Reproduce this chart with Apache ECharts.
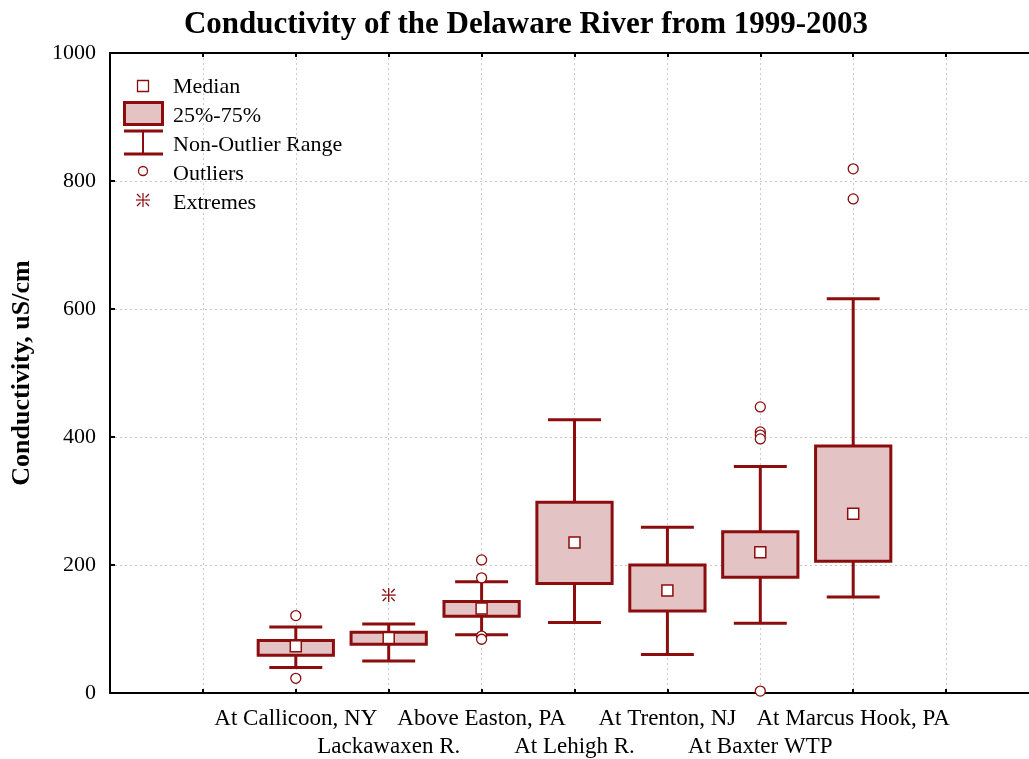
<!DOCTYPE html>
<html>
<head>
<meta charset="utf-8">
<title>Conductivity of the Delaware River from 1999-2003</title>
<script src="https://cdn.jsdelivr.net/npm/echarts@6/dist/echarts.min.js"></script>
<style>
  html, body { margin: 0; padding: 0; background: #fff; }
  #chart { width: 1029px; height: 759px; }
</style>
</head>
<body>
<div id="chart"></div>
<script>
// Sampling stations along the river, upstream to downstream
const stations = ['At Callicoon, NY', 'Lackawaxen R.', 'Above Easton, PA', 'At Lehigh R.',
                  'At Trenton, NJ', 'At Baxter WTP', 'At Marcus Hook, PA'];

// Box-plot statistics, conductivity in uS/cm
const whiskerLow  = [40, 50, 91, 110, 60, 109, 150];
const quartile1   = [59, 76, 120, 171, 128, 181, 206];
const medians     = [73, 86, 132, 235, 160, 220, 280];
const quartile3   = [82, 95, 143, 298, 200, 252, 386];
const whiskerHigh = [103, 108, 174, 427, 259, 354, 616];

// Outliers and extremes: [station index, value]
const outliers = [[0, 121], [0, 23], [2, 208], [2, 180], [2, 89], [2, 84],
                  [5, 447], [5, 408], [5, 403], [5, 397], [5, 3], [6, 819], [6, 772]];
const extremes = [[1, 153]];

const yTicks = [0, 200, 400, 600, 800, 1000];

const DARK = '#8b0d0d';
const FILL = '#e3c3c3';
const SERIF = '"Liberation Serif", "DejaVu Serif", serif';
const SLOT0 = 2;          // first station sits on the second tick of the x scale
const BOX_W = 0.81;       // box width in x-axis units
const CAP_W = 0.57;       // whisker cap width in x-axis units

const boxData = stations.map((s, i) =>
  [i + SLOT0, whiskerLow[i], quartile1[i], medians[i], quartile3[i], whiskerHigh[i]]);
const outlierData = outliers.map(([i, v]) => [i + SLOT0, v]);
const extremeData = extremes.map(([i, v]) => [i + SLOT0, v]);

function renderBox(params, api) {
  const x = api.value(0);
  const lo = api.coord([x, api.value(1)]);
  const q1 = api.coord([x, api.value(2)]);
  const md = api.coord([x, api.value(3)]);
  const q3 = api.coord([x, api.value(4)]);
  const hi = api.coord([x, api.value(5)]);
  const bw = api.size([BOX_W, 0])[0];
  const cw = api.size([CAP_W, 0])[0];
  const cx = lo[0];
  const lineStyle = { stroke: DARK, lineWidth: 3 };
  const ms = 11;
  return {
    type: 'group',
    children: [
      { type: 'line', shape: { x1: cx, y1: hi[1], x2: cx, y2: q3[1] }, style: lineStyle },
      { type: 'line', shape: { x1: cx, y1: q1[1], x2: cx, y2: lo[1] }, style: lineStyle },
      { type: 'line', shape: { x1: cx - cw / 2, y1: hi[1], x2: cx + cw / 2, y2: hi[1] }, style: lineStyle },
      { type: 'line', shape: { x1: cx - cw / 2, y1: lo[1], x2: cx + cw / 2, y2: lo[1] }, style: lineStyle },
      { type: 'rect', shape: { x: cx - bw / 2, y: q3[1], width: bw, height: q1[1] - q3[1] },
        style: { fill: FILL, stroke: DARK, lineWidth: 3 } },
      { type: 'rect', shape: { x: cx - ms / 2, y: md[1] - ms / 2, width: ms, height: ms },
        style: { fill: '#fff', stroke: DARK, lineWidth: 1.5 } }
    ]
  };
}

function renderStar(params, api) {
  const p = api.coord([api.value(0), api.value(1)]);
  const r = 7, d = 6, g = 2.5;
  const st = { stroke: DARK, lineWidth: 1.3 };
  return {
    type: 'group',
    children: [
      { type: 'line', shape: { x1: p[0], y1: p[1] - r, x2: p[0], y2: p[1] + r }, style: st },
      { type: 'line', shape: { x1: p[0] - r, y1: p[1], x2: p[0] + r, y2: p[1] }, style: st },
      { type: 'line', shape: { x1: p[0] - d, y1: p[1] - d, x2: p[0] - g, y2: p[1] - g }, style: st },
      { type: 'line', shape: { x1: p[0] + d, y1: p[1] - d, x2: p[0] + g, y2: p[1] - g }, style: st },
      { type: 'line', shape: { x1: p[0] - d, y1: p[1] + d, x2: p[0] - g, y2: p[1] + g }, style: st },
      { type: 'line', shape: { x1: p[0] + d, y1: p[1] + d, x2: p[0] + g, y2: p[1] + g }, style: st }
    ]
  };
}

// Legend key drawn as graphics
const LX = 143, TX = 173;
const legendText = (text, y) => ({
  type: 'text', x: TX, y: y,
  style: { text: text, font: '22px ' + SERIF, fill: '#000', textVerticalAlign: 'middle' }
});
const legendGraphics = [
  { type: 'rect', shape: { x: LX - 5.5, y: 80.5, width: 11, height: 11 },
    style: { fill: '#fff', stroke: DARK, lineWidth: 1.3 } },
  legendText('Median', 87),
  { type: 'rect', shape: { x: 124.5, y: 102.5, width: 38, height: 22 },
    style: { fill: FILL, stroke: DARK, lineWidth: 3 } },
  legendText('25%-75%', 116),
  { type: 'line', shape: { x1: 124, y1: 131, x2: 163, y2: 131 }, style: { stroke: DARK, lineWidth: 3 } },
  { type: 'line', shape: { x1: 124, y1: 154, x2: 163, y2: 154 }, style: { stroke: DARK, lineWidth: 3 } },
  { type: 'line', shape: { x1: LX, y1: 131, x2: LX, y2: 154 }, style: { stroke: DARK, lineWidth: 2 } },
  legendText('Non-Outlier Range', 145),
  { type: 'circle', shape: { cx: LX, cy: 171, r: 4.5 }, style: { fill: '#fff', stroke: DARK, lineWidth: 1.3 } },
  legendText('Outliers', 174),
  legendText('Extremes', 203)
];
// asterisk key
(function () {
  const cx = LX, cy = 200, r = 7, d = 6, g = 2.5;
  const st = { stroke: DARK, lineWidth: 1.2 };
  [[cx, cy - r, cx, cy + r], [cx - r, cy, cx + r, cy],
   [cx - d, cy - d, cx - g, cy - g], [cx + d, cy - d, cx + g, cy - g],
   [cx - d, cy + d, cx - g, cy + g], [cx + d, cy + d, cx + g, cy + g]].forEach(s =>
    legendGraphics.push({ type: 'line', shape: { x1: s[0], y1: s[1], x2: s[2], y2: s[3] }, style: st }));
})();

const chart = echarts.init(document.getElementById('chart'), null, { renderer: 'canvas' });

const gridLine = { show: true, lineStyle: { color: '#c8c8c8', type: [2, 3], width: 1 } };

chart.setOption({
  animation: false,
  backgroundColor: '#fff',
  title: {
    text: 'Conductivity of the Delaware River from 1999-2003',
    left: 521, top: 4, textAlign: 'center',
    textStyle: { fontFamily: SERIF, fontWeight: 'bold', fontSize: 31, color: '#000' }
  },
  grid: { left: 110, top: 53, right: -10, bottom: 66, containLabel: false, outerBoundsMode: 'none' },
  xAxis: [{
    type: 'value', min: 0, max: 10, interval: 1, position: 'bottom',
    axisLine: { show: true, onZero: false, lineStyle: { color: '#000', width: 2 } },
    axisTick: { show: true, inside: true, length: 4, lineStyle: { color: '#000', width: 2 } },
    splitLine: gridLine,
    axisLabel: {
      show: true, margin: 12, color: '#000', fontFamily: SERIF, fontSize: 23, lineHeight: 28,
      formatter: v => {
        const i = Math.round(v) - SLOT0;
        if (i < 0 || i >= stations.length) return '';
        return i % 2 === 1 ? '\n' + stations[i] : stations[i];
      }
    }
  }, {
    type: 'value', min: 0, max: 10, interval: 1, position: 'top',
    axisLine: { show: true, onZero: false, lineStyle: { color: '#000', width: 2 } },
    axisTick: { show: true, inside: true, length: 4, lineStyle: { color: '#000', width: 2 } },
    axisLabel: { show: false }, splitLine: { show: false }
  }],
  yAxis: {
    type: 'value', min: yTicks[0], max: yTicks[yTicks.length - 1], interval: 200,
    name: 'Conductivity, uS/cm', nameLocation: 'middle', nameGap: 75, nameRotate: 90,
    nameTextStyle: { fontFamily: SERIF, fontWeight: 'bold', fontSize: 26, color: '#000' },
    axisLine: { show: true, lineStyle: { color: '#000', width: 2 } },
    axisTick: { show: true, inside: true, length: 5, lineStyle: { color: '#000', width: 2 } },
    splitLine: gridLine,
    axisLabel: { color: '#000', fontFamily: SERIF, fontSize: 22, margin: 14, formatter: v => String(v) }
  },
  graphic: legendGraphics,
  series: [{
    type: 'custom', name: 'Box', xAxisIndex: 0, renderItem: renderBox,
    encode: { x: 0, y: [1, 2, 3, 4, 5] }, data: boxData, z: 3
  }, {
    type: 'scatter', name: 'Outliers', xAxisIndex: 0, data: outlierData,
    symbol: 'circle', symbolSize: 10,
    itemStyle: { color: '#fff', borderColor: DARK, borderWidth: 1.3, opacity: 1 }, z: 4
  }, {
    type: 'custom', name: 'Extremes', xAxisIndex: 0, renderItem: renderStar,
    encode: { x: 0, y: 1 }, data: extremeData, z: 4
  }]
});
</script>
</body>
</html>
